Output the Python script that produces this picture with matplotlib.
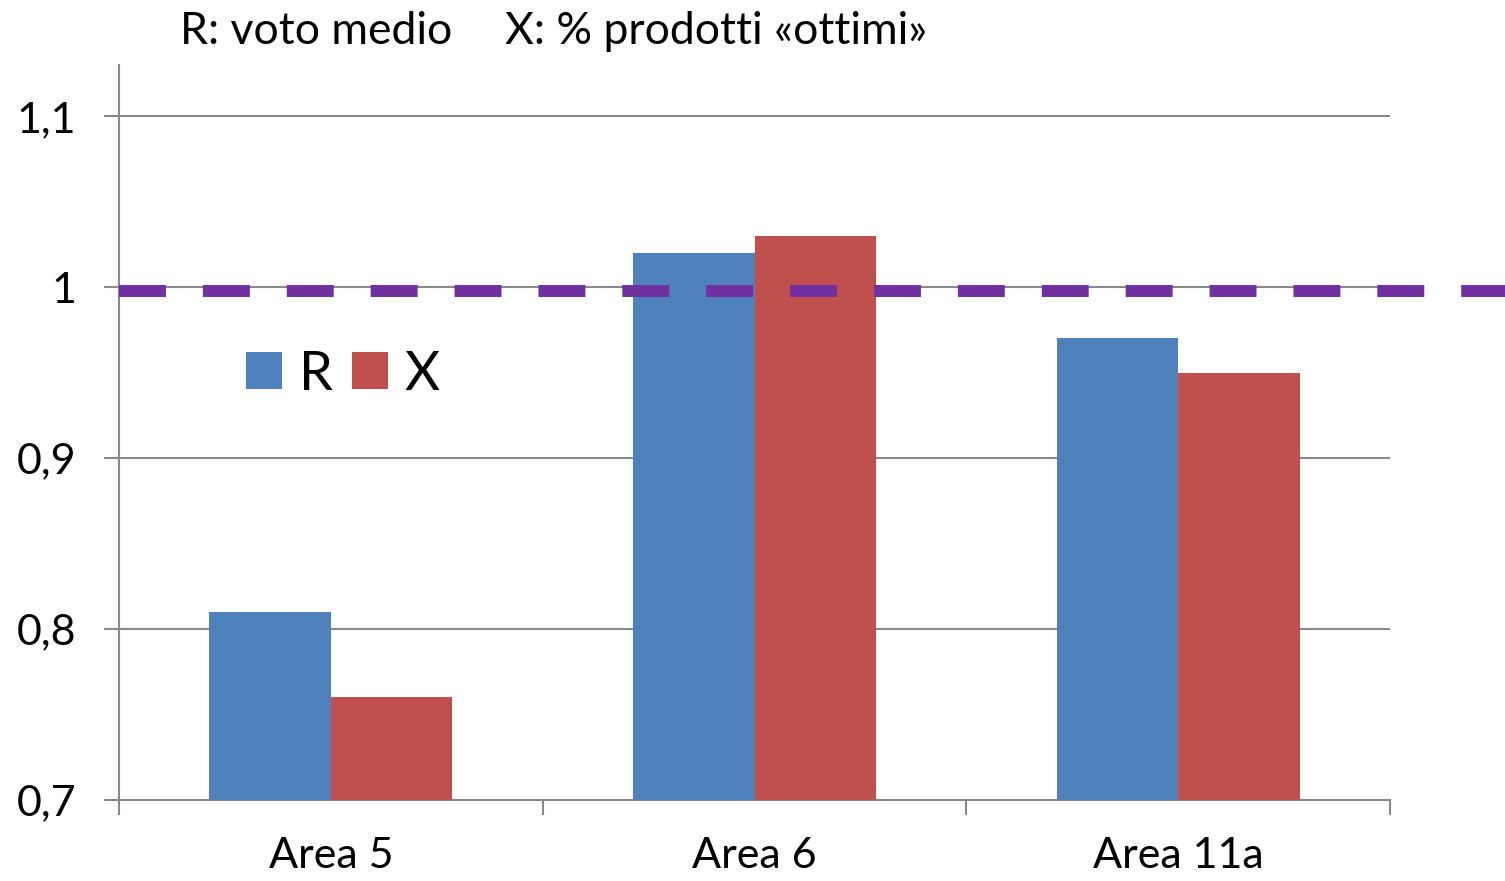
import matplotlib
matplotlib.use("Agg")
import matplotlib.pyplot as plt
import numpy as np

categories = ["Area 5", "Area 6", "Area 11a"]
r_values = [0.81, 1.02, 0.97]
x_values = [0.76, 1.03, 0.95]
ref_value = 0.998
y_ticks = [0.7, 0.8, 0.9, 1.0, 1.1]
y_tick_labels = ["0,7", "0,8", "0,9", "1", "1,1"]
title_r = "R: voto medio"
title_x = "X: % prodotti «ottimi»"

plt.rcParams['font.family'] = ['Lato', 'DejaVu Sans']
plt.rcParams['lines.scale_dashes'] = False

W, H = 1505, 881
fig = plt.figure(figsize=(W / 100, H / 100), dpi=100)
ax = fig.add_axes([119 / W, 1 - 800 / H, (1390 - 119) / W, (800 - 65) / H])

gray = "#898989"
blue = "#4F81BD"
red = "#C0504D"
purple = "#7030A0"

x = np.arange(len(categories))
w = 0.287
b1 = ax.bar(x - w / 2, [v - 0.7 for v in r_values], w, bottom=0.7, color=blue, label="R", zorder=3)
b2 = ax.bar(x + w / 2, [v - 0.7 for v in x_values], w, bottom=0.7, color=red, label="X", zorder=3)

ax.set_xlim(-0.5, len(categories) - 0.5)
ax.set_ylim(0.7, 1.13)

ax.set_yticks(y_ticks)
ax.set_yticklabels(y_tick_labels)
for t in y_ticks[1:]:
    ax.axhline(t, color=gray, lw=1.5, zorder=1)

ax.set_xticks(x)
ax.set_xticklabels(categories)
ax.set_xticks(np.arange(len(categories) + 1) - 0.5, minor=True)
ax.tick_params(axis='x', which='major', length=0, pad=27, labelsize=31)
ax.tick_params(axis='x', which='minor', length=11, width=1.5, color=gray)
ax.tick_params(axis='y', which='major', length=11, width=1.5, color=gray, pad=20, labelsize=31)

for s in ["top", "right"]:
    ax.spines[s].set_visible(False)
for s in ["left", "bottom"]:
    ax.spines[s].set_color(gray)
    ax.spines[s].set_linewidth(1.5)

ln = ax.axhline(ref_value, xmin=0, xmax=1.2, color=purple, lw=8.6, clip_on=False, zorder=4,
                solid_capstyle='butt', dash_capstyle='butt')
ln.set_dashes((33.8, 26.6))

ax.legend(handles=[b1, b2], labels=["R", "X"], loc='upper left', bbox_to_anchor=(0.083, 0.642),
          ncol=2, frameon=False, fontsize=39, handlelength=0.67, handleheight=0.67,
          handletextpad=0.3, columnspacing=0.35, borderaxespad=0)

fig.text(180 / W, 1 - 44 / H, title_r, fontsize=32, va='baseline', ha='left')
fig.text(505 / W, 1 - 44 / H, title_x, fontsize=32, va='baseline', ha='left')

fig.savefig("out.png", dpi=100)
